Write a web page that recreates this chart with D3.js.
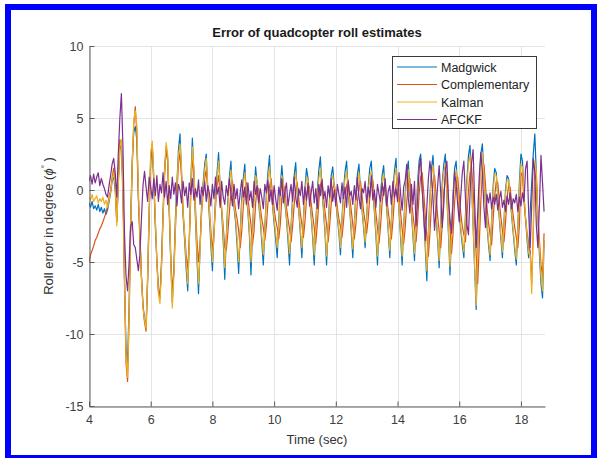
<!DOCTYPE html>
<html><head><meta charset="utf-8">
<script src="https://cdn.jsdelivr.net/npm/d3@7/dist/d3.min.js"></script>
<style>
html,body{margin:0;padding:0;background:#fff;}
svg{display:block;}
text{font-family:"Liberation Sans",Arial,Helvetica,sans-serif;}
</style></head>
<body>
<svg id="chart" width="600" height="458"></svg>
<script>
// ---- data ----
const seriesNames = ["Madgwick", "Complementary", "Kalman", "AFCKF"];
const seriesColors = ["#0072BD", "#D95319", "#EDB120", "#7E2F8E"];
const xTicks = [4, 6, 8, 10, 12, 14, 16, 18];
const yTicks = [-15, -10, -5, 0, 5, 10];
const tStart = 4, tStep = 0.05; // sampling of the recorded series (s)

const madgwick = [
-0.9,-1.2,-0.8,-1.3,-1.1,-1.4,-1.0,-1.5,-1.2,-1.6,
-1.3,-1.7,-1.4,-0.8,-0.2,0.6,1.0,0.0,-2.2,0.4,
2.8,3.2,0.5,-6.0,-11.0,-12.0,-8.0,-2.0,2.0,4.0,
4.4,3.5,-0.5,-3.0,-6.0,-8.0,-9.0,-9.4,-6.0,-1.5,
2.0,3.0,0.5,-2.5,-5.0,-7.0,-7.5,-5.0,-1.5,1.5,
3.0,2.2,-1.5,-5.0,-7.8,-5.5,-2.0,0.5,2.8,3.9,
1.0,-1.8,-3.5,-5.5,-7.0,-3.5,0.5,3.6,1.2,-2.0,
-4.8,-7.2,-4.0,-1.0,0.5,1.8,2.5,0.0,-1.8,-3.8,
-5.6,-3.0,-0.5,1.2,2.6,0.2,-1.5,-3.5,-6.2,-3.2,
-0.8,0.9,2.0,-0.2,-1.2,-2.2,-3.8,-5.8,-3.0,-0.6,
0.8,1.8,-0.4,-1.5,-3.2,-5.9,-2.8,-0.3,1.6,0.4,
-1.0,-2.0,-3.6,-5.2,-2.6,-0.2,1.2,2.4,0.0,-1.1,
-2.3,-3.4,-4.7,-2.2,0.2,1.7,0.3,-0.9,-2.0,-3.5,
-5.2,-2.5,-0.4,1.0,1.9,-0.3,-1.5,-3.0,-4.7,-2.0,
0.1,1.5,0.8,-0.6,-1.8,-3.3,-5.2,-2.4,-0.1,1.4,
2.3,0.0,-1.4,-3.0,-5.2,-2.6,-0.5,1.0,1.6,0.2,
-0.8,-1.9,-3.0,-4.5,-2.0,0.0,1.3,2.0,-0.2,-1.3,
-2.9,-4.7,-2.3,-0.2,1.1,1.8,-0.1,-1.4,-2.6,-4.0,
-1.8,0.2,1.5,2.0,0.0,-1.5,-3.2,-5.2,-2.4,-0.3,
1.0,1.7,-0.2,-1.3,-2.9,-4.7,-2.1,0.0,1.3,2.2,
0.0,-1.5,-3.3,-5.2,-2.5,-0.2,1.2,2.0,-0.3,-1.6,
-3.2,-4.9,-2.0,0.5,2.0,2.5,0.2,-1.8,-4.0,-6.3,
-3.0,-0.5,1.5,2.4,0.0,-1.8,-3.5,-5.4,-2.2,0.5,
1.8,2.5,-0.5,-3.0,-5.9,-3.0,-0.3,1.5,2.0,0.0,
-1.5,-2.8,-3.8,-4.7,-1.8,0.8,2.4,3.1,0.5,-2.5,
-5.5,-8.3,-4.0,0.0,2.5,3.2,1.0,-1.0,-2.5,-3.8,
-4.9,-2.0,0.3,1.5,1.2,-0.5,-2.0,-3.4,-4.7,-2.2,
0.0,1.0,0.8,-0.6,-1.8,-3.0,-4.2,-5.2,-2.5,0.5,
2.5,2.0,-0.5,-2.0,-3.5,-4.7,-1.5,0.5,2.5,3.9,
1.0,-2.0,-4.5,-6.5,-7.5,-3.5
];

const complementary = [
-5.0,-4.5,-4.2,-3.9,-3.5,-3.3,-3.0,-2.7,-2.5,-2.2,
-1.9,-1.6,-1.1,-0.5,0.0,0.9,1.5,0.5,-2.2,0.8,
3.5,3.0,-0.5,-6.5,-12.0,-13.3,-9.0,-3.0,1.5,4.5,
5.8,4.0,-0.5,-3.5,-6.0,-8.0,-9.2,-9.8,-6.5,-2.0,
2.2,3.2,0.8,-2.2,-4.8,-6.8,-7.5,-5.2,-2.0,1.0,
2.8,2.0,-1.2,-4.5,-7.0,-5.8,-2.8,-0.2,1.8,2.6,
1.0,-1.5,-3.0,-4.5,-5.5,-3.6,-0.4,2.2,1.2,-1.2,
-3.5,-5.0,-3.8,-1.6,-0.2,0.8,1.4,0.0,-1.2,-2.8,
-4.2,-3.0,-1.2,0.3,1.0,-0.2,-1.3,-2.5,-4.0,-4.2,
-3.0,-1.5,-0.2,0.6,-0.5,-1.4,-2.0,-2.8,-4.0,-2.9,
-1.2,0.0,0.5,-0.6,-1.5,-2.4,-3.8,-2.8,-1.0,0.3,
0.0,-1.2,-2.0,-2.6,-3.5,-2.5,-0.9,0.2,0.8,-0.3,
-1.3,-2.1,-2.6,-3.4,-2.4,-0.6,0.4,0.0,-1.2,-2.0,
-2.7,-3.6,-2.5,-1.0,0.0,0.5,-0.6,-1.6,-2.4,-3.3,
-2.2,-0.6,0.3,0.2,-0.9,-1.8,-2.6,-3.7,-2.4,-0.8,
0.3,0.8,-0.4,-1.5,-2.4,-3.6,-2.5,-1.0,0.1,0.4,
-0.3,-1.2,-2.0,-2.5,-3.3,-2.2,-0.7,0.3,0.7,-0.5,
-1.4,-2.4,-3.4,-2.4,-0.8,0.1,0.6,-0.4,-1.5,-2.2,
-3.0,-2.0,-0.5,0.5,0.7,-0.4,-1.6,-2.6,-3.7,-2.5,
-0.9,0.1,0.5,-0.6,-1.5,-2.4,-3.4,-2.2,-0.6,0.3,
0.8,-0.3,-1.6,-2.7,-3.7,-2.6,-0.8,0.3,0.8,-0.6,
-1.7,-2.6,-3.6,-2.2,-0.3,0.9,1.2,-0.2,-1.8,-3.2,
-4.6,-3.0,-1.0,0.5,1.0,-0.3,-1.8,-2.9,-4.0,-2.4,
-0.2,0.8,1.2,-0.8,-2.6,-4.4,-3.0,-0.9,0.5,0.9,
-0.4,-1.6,-2.5,-3.1,-3.6,-1.9,0.0,1.2,1.6,0.0,
-2.2,-4.6,-6.5,-3.8,-0.8,1.2,1.8,0.4,-1.2,-2.3,
-3.1,-3.8,-2.0,-0.4,0.6,0.5,-0.8,-1.9,-2.8,-3.6,
-2.3,-0.6,0.3,0.2,-0.9,-1.8,-2.6,-3.3,-4.0,-2.5,
1.2,1.0,-0.8,-2.0,-3.0,-3.8,-4.2,-6.5,-2.8,1.2,
0.6,-1.8,-3.5,-5.2,-6.0,-3.0
];

const kalman = [
-0.5,-0.7,-0.3,-0.8,-0.6,-0.4,-0.9,-0.6,-0.8,-0.5,
-1.0,-0.7,-1.2,-0.7,-0.1,0.7,1.2,0.3,-2.5,0.5,
3.0,3.5,0.0,-6.0,-11.5,-13.0,-8.5,-2.5,1.8,4.8,
5.5,4.5,0.0,-3.0,-6.2,-8.2,-9.0,-9.6,-6.0,-1.5,
2.6,3.4,1.0,-2.0,-5.0,-7.2,-7.9,-5.5,-1.8,1.2,
3.3,2.5,-1.0,-4.8,-8.2,-6.0,-2.5,0.2,2.4,3.2,
1.5,-1.5,-3.2,-5.0,-6.5,-3.8,0.2,3.0,1.5,-1.6,
-4.5,-6.5,-4.2,-1.4,0.2,1.4,2.2,0.3,-1.4,-3.3,
-5.0,-3.2,-0.9,0.8,2.0,0.4,-1.2,-3.0,-5.4,-3.4,
-1.2,0.5,1.4,0.0,-1.0,-1.9,-3.3,-5.0,-3.2,-1.0,
0.4,1.2,-0.2,-1.3,-2.8,-5.0,-3.0,-0.8,1.0,0.6,
-0.8,-1.8,-3.2,-4.5,-2.8,-0.6,0.7,1.6,0.3,-0.9,
-2.0,-3.0,-4.0,-2.4,-0.2,1.0,0.5,-0.7,-1.8,-3.1,
-4.4,-2.7,-0.8,0.5,1.2,0.0,-1.3,-2.7,-4.0,-2.2,
-0.3,0.9,0.7,-0.4,-1.6,-3.0,-4.5,-2.6,-0.5,0.8,
1.5,0.2,-1.2,-2.7,-4.6,-2.8,-0.8,0.6,1.0,0.3,
-0.6,-1.7,-2.7,-4.0,-2.2,-0.4,0.8,1.3,0.0,-1.1,
-2.6,-4.1,-2.5,-0.5,0.6,1.2,0.1,-1.2,-2.4,-3.6,
-2.0,-0.2,1.0,1.3,0.2,-1.3,-2.9,-4.6,-2.6,-0.6,
0.6,1.1,0.0,-1.1,-2.6,-4.2,-2.3,-0.3,0.8,1.5,
0.2,-1.3,-3.0,-4.6,-2.7,-0.5,0.8,1.4,-0.1,-1.4,
-2.9,-4.4,-2.2,0.1,1.5,1.8,0.3,-1.6,-3.6,-5.6,
-3.2,-0.8,1.0,1.7,0.2,-1.6,-3.2,-4.9,-2.4,0.1,
1.3,1.8,-0.3,-2.7,-5.3,-3.2,-0.6,1.0,1.4,0.2,
-1.3,-2.6,-3.5,-4.3,-2.0,0.4,1.8,2.4,0.6,-2.3,
-5.3,-8.0,-4.2,-0.4,2.0,2.6,1.0,-0.8,-2.3,-3.5,
-4.5,-2.2,0.0,1.1,1.0,-0.3,-1.8,-3.1,-4.3,-2.4,
-0.3,0.7,0.7,-0.4,-1.6,-2.8,-3.9,-4.8,-2.7,0.1,
1.8,1.6,-0.3,-1.8,-3.2,-4.4,-4.5,-7.2,-2.5,2.0,
1.2,-1.8,-4.0,-6.0,-7.0,-3.5
];

const afckf = [
0.6,1.0,0.4,1.1,0.5,0.9,1.2,0.3,0.8,0.4,
0.1,-0.3,-0.5,0.3,1.0,1.8,2.2,1.2,-0.5,2.5,
5.0,6.7,3.0,-3.0,-6.0,-7.0,-5.0,-2.5,-2.2,-3.8,
-4.0,-4.8,-5.6,-4.5,-2.0,0.3,1.3,0.2,-0.8,0.9,
0.2,-0.6,0.8,-0.4,1.0,-0.8,0.4,-0.2,1.2,-0.5,
0.6,-1.0,0.3,-0.6,0.9,-0.3,0.5,-1.1,0.4,0.0,
-0.9,0.6,-0.4,0.2,-1.2,0.5,-0.3,0.8,-0.7,0.1,
-0.5,0.7,-1.0,0.2,-0.4,0.6,-0.8,0.3,-0.2,-1.1,
0.4,-0.6,0.9,-0.3,0.2,-1.2,0.6,-0.5,-1.0,0.3,
-0.4,0.8,-0.2,-1.1,0.4,-0.6,0.1,-1.3,-0.2,0.7,
-0.5,0.2,-1.0,0.5,-0.7,-0.1,-1.2,0.6,-0.3,0.3,
-0.9,0.1,-0.5,-1.3,0.4,-0.2,0.7,-0.8,0.0,-1.0,
0.3,-0.6,-1.4,0.2,-0.4,0.8,-0.9,-0.1,0.5,-1.1,
-0.3,0.4,-0.8,0.9,-0.5,-1.2,0.1,-0.4,0.6,-1.0,
0.2,-0.7,0.5,-1.1,-0.2,0.6,-0.9,0.1,-1.3,0.4,
-0.4,0.7,-0.6,-0.1,-1.2,0.3,-0.5,0.8,-0.8,0.0,
-1.1,0.4,-0.3,-0.9,0.5,-0.6,0.2,-1.2,0.6,-0.4,
-0.1,-1.0,0.3,-0.7,0.9,-0.5,-1.3,0.1,-0.2,0.6,
-0.9,0.2,-0.5,1.0,-0.7,0.0,-1.2,0.4,-0.3,-0.8,
0.5,-0.4,0.8,-1.1,-0.1,0.3,-1.0,0.6,-0.5,0.1,
-0.8,1.2,-0.3,-1.4,0.2,0.7,1.8,-0.6,-1.6,0.4,
-1.0,0.6,-2.5,-0.8,1.5,2.2,0.0,-1.8,-3.5,-1.2,
0.8,2.0,1.0,-0.6,-2.8,-1.4,0.3,1.7,-0.2,-2.6,
-1.0,1.4,2.0,-0.5,-2.0,-3.0,-0.8,1.2,0.4,-1.0,
-2.2,-0.4,1.2,2.0,-0.5,-2.4,-3.1,-0.3,1.9,2.8,
-0.8,-4.0,-1.5,1.0,2.6,1.2,-1.2,-2.6,-0.3,-0.9,
-0.2,-1.3,-0.5,-1.0,-0.3,-1.4,-0.6,-0.1,-1.2,-0.7,
-1.5,-0.4,-1.0,-0.2,-1.3,-0.6,-0.9,-0.3,-1.5,-0.5,
-1.1,-0.2,-0.8,1.5,2.0,-1.5,-4.0,-1.0,2.2,1.2,
-2.5,-4.0,-1.0,2.4,0.5,-1.5
];

const seriesValues = [madgwick, complementary, kalman, afckf];

// ---- layout ----
const svg = d3.select("#chart");
const L = 89, R = 545, T = 46, B = 406;
const x = d3.scaleLinear().domain([4, 18.78]).range([L, R]);
const y = d3.scaleLinear().domain([-15, 10]).range([B, T]);

svg.append("rect").attr("x", 0).attr("y", 0).attr("width", 600).attr("height", 458).attr("fill", "#fff");

// grid
const grid = svg.append("g").attr("stroke", "#e3e3e3").attr("stroke-width", 1);
xTicks.forEach(v => grid.append("line")
  .attr("x1", Math.round(x(v)) + 0.5).attr("x2", Math.round(x(v)) + 0.5)
  .attr("y1", T).attr("y2", B));
yTicks.forEach(v => grid.append("line")
  .attr("x1", L).attr("x2", R)
  .attr("y1", Math.round(y(v)) + 0.5).attr("y2", Math.round(y(v)) + 0.5));

// lines
svg.append("defs").append("clipPath").attr("id", "clip")
  .append("rect").attr("x", L).attr("y", T).attr("width", R - L).attr("height", B - T);
const line = d3.line()
  .x((d, i) => x(tStart + i * tStep))
  .y(d => y(d));
const gl = svg.append("g").attr("clip-path", "url(#clip)");
seriesValues.forEach((vals, k) => {
  gl.append("path").datum(vals)
    .attr("d", line)
    .attr("fill", "none")
    .attr("stroke", seriesColors[k])
    .attr("stroke-width", 1.2)
    .attr("stroke-linejoin", "round");
});

// axes
const axisColor = "#5a5a5a";
const fmt = d => String(d);
const xAxis = d3.axisBottom(x).tickValues(xTicks).tickSizeInner(-5).tickSizeOuter(0).tickPadding(9).tickFormat(fmt);
const yAxis = d3.axisLeft(y).tickValues(yTicks).tickSizeInner(-5).tickSizeOuter(0).tickPadding(6).tickFormat(fmt);
const gx = svg.append("g").attr("transform", `translate(0,${B + 0.5})`).call(xAxis);
const gy = svg.append("g").attr("transform", `translate(${L + 0.5},0)`).call(yAxis);
[gx, gy].forEach(g => {
  g.select(".domain").attr("stroke", axisColor);
  g.selectAll(".tick line").attr("stroke", axisColor);
  g.selectAll(".tick text").attr("fill", "#404040").attr("font-size", "12.5px")
    .attr("font-family", "'Liberation Sans', Arial, sans-serif");
});
gy.selectAll(".tick text").attr("dy", "0.36em");

// title & labels
svg.append("text").attr("x", (L + R) / 2).attr("y", 37).attr("text-anchor", "middle")
  .attr("font-size", "13px").attr("font-weight", "bold").attr("fill", "#1a1a1a")
  .text("Error of quadcopter roll estimates");
svg.append("text").attr("x", (L + R) / 2).attr("y", 444).attr("text-anchor", "middle")
  .attr("font-size", "13px").attr("fill", "#333")
  .text("Time (sec)");
const yl = svg.append("text").attr("transform", `translate(53,${(T + B) / 2}) rotate(-90)`)
  .attr("text-anchor", "middle").attr("font-size", "13px").attr("fill", "#333");
yl.append("tspan").text("Roll error in degree (");
yl.append("tspan").attr("font-style", "italic").text("ϕ");
yl.append("tspan").attr("font-size", "8px").attr("dy", "-6").text("°");
yl.append("tspan").attr("dy", "6").text(" )");

// legend
const lg = svg.append("g");
lg.append("rect").attr("x", 392.5).attr("y", 56.5).attr("width", 144).attr("height", 72)
  .attr("fill", "#fff").attr("stroke", "#3a3a3a").attr("stroke-width", 1);
seriesNames.forEach((name, k) => {
  const yy = 67 + k * 17.5;
  lg.append("line").attr("x1", 397).attr("x2", 437).attr("y1", yy).attr("y2", yy)
    .attr("stroke", seriesColors[k]).attr("stroke-width", 1);
  lg.append("text").attr("x", 441).attr("y", yy).attr("dy", "0.36em")
    .attr("font-size", "12.5px").attr("fill", "#222").text(name);
});

// outer blue frame
svg.append("rect").attr("x", 8).attr("y", 7).attr("width", 586).attr("height", 451)
  .attr("fill", "none").attr("stroke", "#0000ff").attr("stroke-width", 6);
</script>
</body></html>
